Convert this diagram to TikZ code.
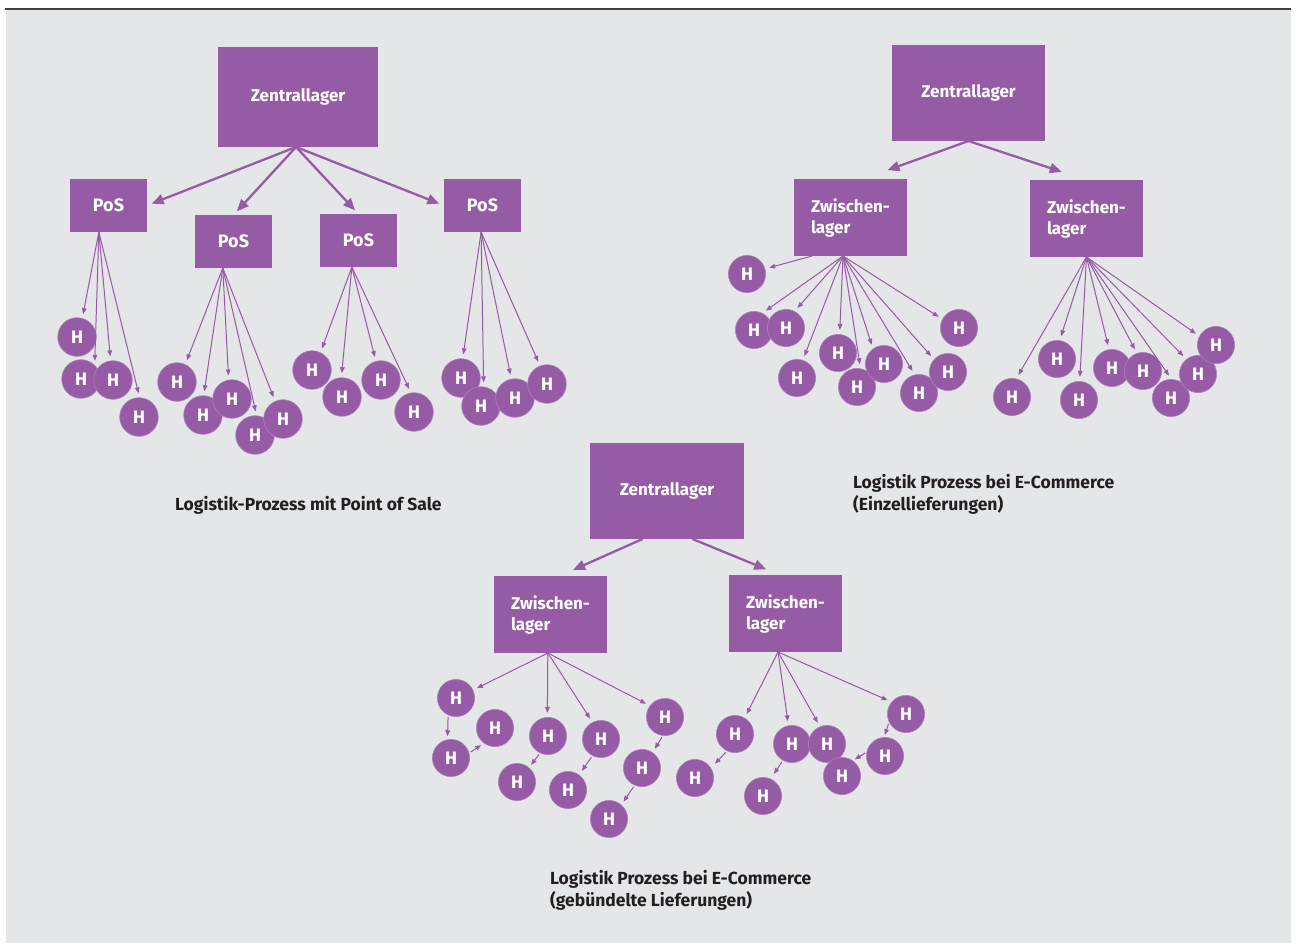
\documentclass[tikz,border=0pt]{standalone}
\usepackage{fontspec}
\setmainfont{Fira Sans}
\usetikzlibrary{arrows.meta}
\definecolor{lila}{RGB}{150,91,165}
\definecolor{lilaedge}{RGB}{172,128,186}
\definecolor{paper}{RGB}{229,230,232}
\definecolor{ink}{RGB}{35,31,32}
\definecolor{topline}{RGB}{64,64,64}
\begin{document}
\begin{tikzpicture}[x=1pt,y=-1pt,
  box/.style={fill=lila, text=white, inner sep=0pt, outer sep=0pt,
    font=\bfseries\fontsize{17}{21}\selectfont},
  hub/.style={box, minimum width=#1, minimum height=96pt},
  posbox/.style={box, minimum width=77pt, minimum height=53pt,
    font=\bfseries\fontsize{18}{21}\selectfont},
  zwbox/.style={box, text width=79pt, inner xsep=17pt, align=left,
    minimum height=77pt},
  hh/.style={circle, fill=lila, draw=lilaedge, line width=0.6pt,
    minimum size=#1, inner sep=0pt, outer sep=0pt, text=white,
    font=\bfseries\fontsize{18}{18}\selectfont},
  hh/.default=37.2pt,
  bigarrow/.style={draw=lila, line width=2.3pt,
    -{Triangle[length=12pt,width=10pt]}, shorten >=#1},
  bigarrow/.default=5pt,
  thinarrow/.style={draw=lila, line width=1pt,
    -{Triangle[length=6pt,width=4.6pt]}, shorten >=#1},
  thinarrow/.default=4.5pt,
  chain/.style={thinarrow=#1, shorten <=2pt},
  chain/.default=3.5pt,
  caption/.style={text=ink, inner sep=0pt, align=left,
    font=\bfseries\fontsize{17.5}{21.5}\selectfont}
]
% page and frame
\useasboundingbox (0,0) rectangle (1296,943);
\fill[white] (0,0) rectangle (1296,943);
\fill[paper] (6,10) rectangle (1291,943);
\draw[topline, line width=2pt] (5,9) -- (1291,9);

% ---------------- Logistik-Prozess mit Point of Sale ----------------
\node[hub=160pt, minimum height=100pt] (zl1) at (298,97) {Zentrallager};
\node[posbox] (pos1) at (108.5,205.5) {PoS};
\node[posbox] (pos2) at (233.5,241.5) {PoS};
\node[posbox] (pos3) at (358.5,240.5) {PoS};
\node[posbox] (pos4) at (482.5,205.5) {PoS};
\coordinate (zl1o) at ([xshift=-2pt]zl1.south);
\draw[bigarrow] (zl1o) -- (pos1.east);
\draw[bigarrow] (zl1o) -- (pos2.north);
\draw[bigarrow] (zl1o) -- (pos3.north);
\draw[bigarrow] (zl1o) -- (pos4.west);

\foreach \n/\p in {a1/{77,337}, a2/{81,379}, a3/{113,380}, a4/{139,417},
  b1/{177,382}, b2/{203,415}, b3/{232,399}, b4/{255,435}, b5/{283,419},
  c1/{312,370}, c2/{342,397}, c3/{381,380}, c4/{414,412},
  d1/{461,378}, d2/{481,406}, d3/{515,398}, d4/{547,384}}
  \node[hh=38.6pt] (\n) at (\p) {H};

\coordinate (o1) at (pos1.250);
\coordinate (o2) at (pos2.248);
\coordinate (o3) at (pos3.256);
\coordinate (o4) at (pos4.267);
\foreach \t in {a1.74, a2.45, a3.97, a4.88} \draw[thinarrow] (o1) -- (\t);
\foreach \t in {b1.65, b2.88, b3.100, b4.85, b5.114} \draw[thinarrow] (o2) -- (\t);
\foreach \t in {c1.64, c2.92, c3.105, c4.99} \draw[thinarrow] (o3) -- (\t);
\foreach \t in {d1.85, d2.82, d3.101, d4.111} \draw[thinarrow] (o4) -- (\t);

\node[caption, anchor=base west] (cap1) at (175,510)
  {Logistik-Prozess mit Point of Sale};

% ---------------- E-Commerce, Einzellieferungen ----------------
\node[hub=153pt] (zl2) at (968.5,93) {Zentrallager};
\node[zwbox] (zwA) at (850.5,217.5) {Zwischen-\\lager};
\node[zwbox] (zwB) at (1086.5,218.5) {Zwischen-\\lager};
\draw[bigarrow=26pt] (zl2.south) -- (zwA.72);
\draw[bigarrow=26pt] (zl2.south) -- (zwB.north);

\foreach \n/\p in {e1/{747,274}, e2/{754,330}, e3/{786,328}, e4/{797,378},
  e5/{838,353}, e6/{857,387}, e7/{884,364}, e8/{919,393}, e9/{948,372},
  e10/{959,328},
  f1/{1012,397}, f2/{1057,359}, f3/{1079,400}, f4/{1112,368},
  f5/{1143,371}, f6/{1171,398}, f7/{1198,374}, f8/{1216,345}}
  \node[hh] (\n) at (\p) {H};

\coordinate (oA1) at (zwA.225);
\coordinate (oA) at (zwA.259);
\coordinate (oB) at (zwB.south);
\draw[thinarrow] (oA1) -- (e1.16);
\foreach \t in {e2.64, e3.63, e4.72, e5.85, e6.79, e7.126, e8.103, e9.138, e10.152}
  \draw[thinarrow] (oA) -- (\t);
\foreach \t in {f1.77, f2.82, f3.88, f4.99, f5.109, f6.88, f7.128, f8.152}
  \draw[thinarrow] (oB) -- (\t);

% the base anchor of a two-line node sits on its last line
\node[caption, anchor=base west] (cap2) at (853,510)
  {Logistik Prozess bei E-Commerce\\(Einzellieferungen)};

% ---------------- E-Commerce, gebündelte Lieferungen ----------------
\node[hub=154pt] (zl3) at (667,491) {Zentrallager};
\node[zwbox] (zwC) at (550.5,614.5) {Zwischen-\\lager};
\node[zwbox] (zwD) at (785.5,613.5) {Zwischen-\\lager};
\draw[bigarrow=15pt] (zl3.243) -- (zwC.77);
\draw[bigarrow=15pt] (zl3.298) -- (zwD.98);

\foreach \n/\p in {g1/{456,698}, g2/{451,758}, g3/{495,728}, g4/{548,736},
  g5/{517,782}, g6/{601,739}, g7/{568,790}, g8/{665,717}, g9/{642,768},
  g10/{609,819},
  k1/{735,734}, k2/{695,778}, k3/{792,744}, k4/{827,744}, k5/{763,796},
  k6/{842,776}, k7/{885,756}, k8/{906,714}}
  \node[hh] (\n) at (\p) {H};

\coordinate (oC) at (zwC.266);
\coordinate (oD) at (zwD.259);
\foreach \t in {g1.25, g4.92, g6.117, g8.143} \draw[thinarrow] (oC) -- (\t);
\foreach \t in {k1.59, k3.101, k4.112, k8.140} \draw[thinarrow] (oD) -- (\t);

% onward deliveries from one household to the next
\draw[chain] (g1.245) -- (g2.101);
\draw[chain] (g2.15) -- (g3.234);
\draw[chain] (g4.245) -- (g5.50);
\draw[chain=5pt] (g6.243) -- (g7.54);
\draw[chain=4.5pt] (g8.264) -- (g9.56);
\draw[chain=4pt] (g9.247) -- (g10.49);
\draw[chain=6pt] (k1.245) -- (k2.32);
\draw[chain=6pt] (k3.241) -- (k5.66);
\draw[chain=2.5pt] (k8.205) -- (k7.93);
\draw[chain=2.5pt] (k7.167) -- (k6.55);

\node[caption, anchor=base west] (cap3) at (550,906)
  {Logistik Prozess bei E-Commerce\\(gebündelte Lieferungen)};
\end{tikzpicture}
\end{document}
